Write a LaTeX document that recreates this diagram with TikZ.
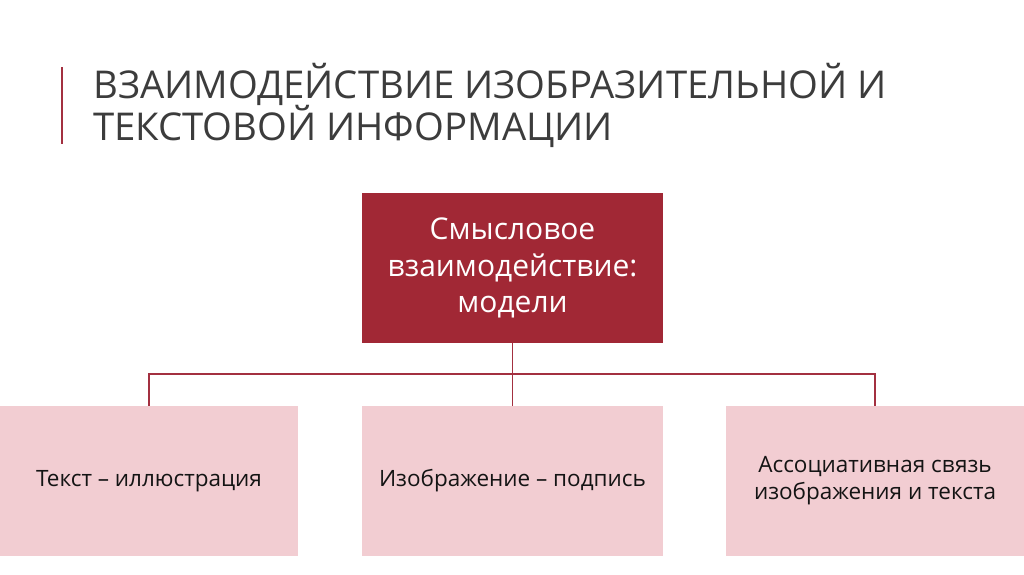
\documentclass[tikz,border=0pt]{standalone}
\usepackage{fontspec}
\setmainfont{Open Sans}
\definecolor{darkred}{HTML}{A12835}
\definecolor{pinkbox}{HTML}{F2CDD2}
\definecolor{linered}{HTML}{A33040}
\definecolor{titlegray}{HTML}{3C3C3C}
\definecolor{textdark}{HTML}{141414}
\tikzset{
  topbox/.style={fill=darkred, draw=none, minimum width=301pt, minimum height=150pt, inner sep=0pt, text=white, align=center, font=\fontsize{30}{36.5}\selectfont},
  subbox/.style={fill=pinkbox, draw=none, minimum width=298pt, minimum height=150pt, inner sep=0pt, text=textdark, align=center, font=\fontsize{22.5}{27}\selectfont},
  titletext/.style={anchor=base west, inner sep=0pt, text=titlegray, font=\fontsize{38.3}{42}\selectfont},
  connector/.style={draw=linered, line width=1.2pt}
}
\begin{document}
\begin{tikzpicture}[x=1pt,y=-1pt]
\useasboundingbox (0,0) rectangle (1024,574);
\coordinate (barTop) at (62,67);
\coordinate (barBot) at (62,144);
\draw[draw=linered, line width=1.5pt] (barTop) -- (barBot);
\node[titletext] (title1) at (93,98) {ВЗАИМОДЕЙСТВИЕ ИЗОБРАЗИТЕЛЬНОЙ И};
\node[titletext] (title2) at (93,140) {ТЕКСТОВОЙ ИНФОРМАЦИИ};
\node[topbox] (top) at (512.5,268) {Смысловое\\взаимодействие:\\модели};
\node[subbox] (b1) at (149,481) {Текст – иллюстрация};
\node[subbox, minimum width=301pt] (b2) at (512.5,481) {Изображение – подпись};
\node[subbox] (b3) at (875,481) {Ассоциативная связь\\изображения и текста};
\coordinate (hub) at (512.5,374);
\draw[connector] (top.south) -- (b2.north);
\draw[connector] (hub) -| (b1.north);
\draw[connector] (hub) -| (b3.north);
\end{tikzpicture}
\end{document}
